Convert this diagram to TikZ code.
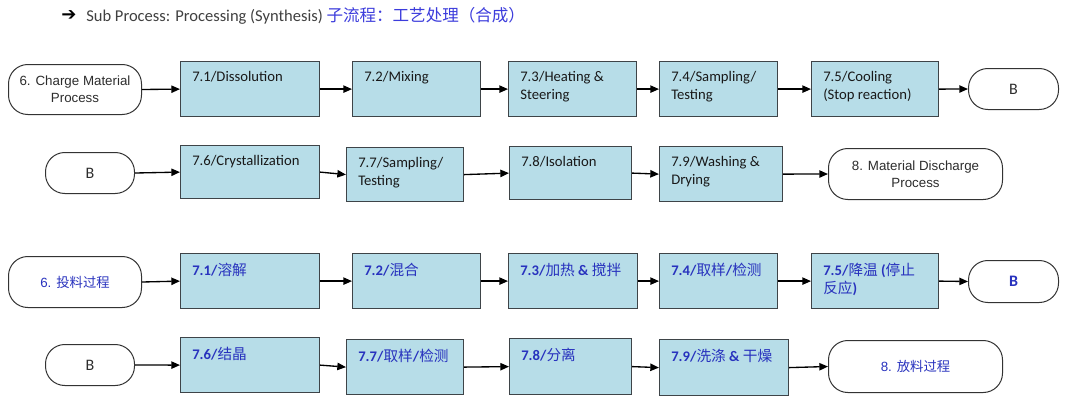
\documentclass[tikz,border=0pt]{standalone}
\usepackage{fontspec}
\setmainfont{Carlito}
\newfontfamily\arialf{Liberation Sans}
\newfontfamily\cjk{Noto Sans CJK SC}
\newfontfamily\dejavu{DejaVu Sans}
\usetikzlibrary{arrows.meta}
\definecolor{boxfill}{RGB}{183,221,232}
\definecolor{boxline}{RGB}{62,68,72}
\definecolor{cnblue}{RGB}{40,50,190}
\definecolor{titleblue}{RGB}{60,60,220}
\definecolor{txtgray}{RGB}{45,45,45}
\tikzset{
  proc/.style={draw=boxline, fill=boxfill, line width=0.9pt, anchor=north west, inner sep=0pt},
  boxtxt/.style={anchor=north west, inner sep=0pt, xshift=9pt, yshift=-7.5pt, align=left,
    font=\fontsize{11}{13.5}\selectfont, text=black!90},
  cntxt/.style={text=cnblue},
  term/.style={draw=black!80, line width=0.75pt, rounded corners=14.5pt, anchor=north west,
    inner sep=0pt, align=center, font=\arialf\fontsize{10}{12.5}\selectfont, text=txtgray},
  cnterm/.style={text=cnblue},
  bterm/.style={font=\fontsize{12}{14}\selectfont},
  bbterm/.style={font=\bfseries\fontsize{12}{14}\selectfont},
  flow/.style={-{Triangle[length=6.5pt,width=5.5pt]}, line width=1pt, black}
}
% name, x1, y1, x2, y2, extra label style, text
\newcommand\pbox[7]{%
  \node[proc, minimum width={(#4-#2)*0.75pt}, minimum height={(#5-#3)*0.75pt},
    label={[boxtxt,#6]north west:{#7}}] (#1) at (#2,#3) {};}
% name, x1, y1, x2, y2, extra style, text
\newcommand\tbox[7]{%
  \node[term, #6, minimum width={(#4-#2)*0.75pt}, minimum height={(#5-#3)*0.75pt}] (#1) at (#2,#3) {#7};}
\newcommand\cn[1]{{\cjk #1}}
\begin{document}
\begin{tikzpicture}[x=0.75pt,y=-0.75pt]
\fill[white] (0,0) rectangle (1080,408);
\useasboundingbox (0,0) rectangle (1080,408);
% title
\node[inner sep=0pt, anchor=west, font=\dejavu\bfseries\fontsize{13.5}{14}\selectfont] (tarrow) at (61,15.5) {➔};
\node[inner sep=0pt, anchor=base west, font=\fontsize{12.4}{14}\selectfont, text=black!75] (title) at (86,21)
  {Sub Process: Processing (Synthesis) \textcolor{titleblue}{\cn{子流程：工艺处理（合成）}}};
% row 1
\tbox{t1}{8}{64}{141}{114}{}{6. Charge Material\\Process}
\pbox{b71}{180}{61}{319}{116}{}{7.1/Dissolution}
\pbox{b72}{352}{61}{480}{116}{}{7.2/Mixing}
\pbox{b73}{508}{61}{636}{116}{}{7.3/Heating \&\\Steering}
\pbox{b74}{659}{61}{777}{116}{}{7.4/Sampling/\\Testing}
\pbox{b75}{811}{61}{938}{116}{}{7.5/Cooling\\(Stop reaction)}
\tbox{bR1}{968}{68}{1058}{109}{bterm}{B}
% row 2
\tbox{bL2}{45}{152}{134}{193}{bterm}{B}
\pbox{b76}{180}{145}{319}{198}{}{7.6/Crystallization}
\pbox{b77}{346}{147}{463}{201}{}{7.7/Sampling/\\Testing}
\pbox{b78}{509}{146}{631}{199}{}{7.8/Isolation}
\pbox{b79}{659}{146}{782}{201}{}{7.9/Washing \&\\Drying}
\tbox{t8}{828}{148}{1002}{199}{}{8. Material Discharge\\Process}
% row 3
\tbox{t3}{8}{256}{141}{307}{cnterm}{6. \cn{投料过程}}
\pbox{c71}{180}{253}{319}{308}{cntxt}{\textbf{7.1/}\cn{溶解}}
\pbox{c72}{352}{253}{480}{308}{cntxt}{\textbf{7.2/}\cn{混合}}
\pbox{c73}{508}{253}{637}{308}{cntxt}{\textbf{7.3/}\cn{加热} \textbf{\&} \cn{搅拌}}
\pbox{c74}{659}{253}{777}{308}{cntxt}{\textbf{7.4/}\cn{取样}\textbf{/}\cn{检测}}
\pbox{c75}{811}{253}{938}{308}{cntxt}{\textbf{7.5/}\cn{降温} \textbf{(}\cn{停止}\\\cn{反应}\textbf{)}}
\tbox{cR}{968}{260}{1058}{302}{cnterm,bbterm}{B}
% row 4
\tbox{cL}{45}{344}{134}{385}{bterm}{B}
\pbox{c76}{180}{337}{319}{392}{cntxt}{\textbf{7.6/}\cn{结晶}}
\pbox{c77}{346}{339}{463}{394}{cntxt}{\textbf{7.7/}\cn{取样}\textbf{/}\cn{检测}}
\pbox{c78}{509}{338}{631}{394}{cntxt}{\textbf{7.8/}\cn{分离}}
\pbox{c79}{659}{339}{788}{395}{cntxt}{\textbf{7.9/}\cn{洗涤} \textbf{\&} \cn{干燥}}
\tbox{t8c}{828}{340}{1002}{392}{cnterm}{8. \cn{放料过程}}
% connectors
\foreach \a/\b in {t1/b71,b71/b72,b72/b73,b73/b74,b74/b75,b75/bR1,
  bL2/b76,b76/b77,b77/b78,b78/b79,b79/t8,
  t3/c71,c71/c72,c72/c73,c73/c74,c74/c75,c75/cR,
  cL/c76,c76/c77,c77/c78,c78/c79,c79/t8c}
  \draw[flow] (\a.east) -- (\b.west);
\end{tikzpicture}
\end{document}
